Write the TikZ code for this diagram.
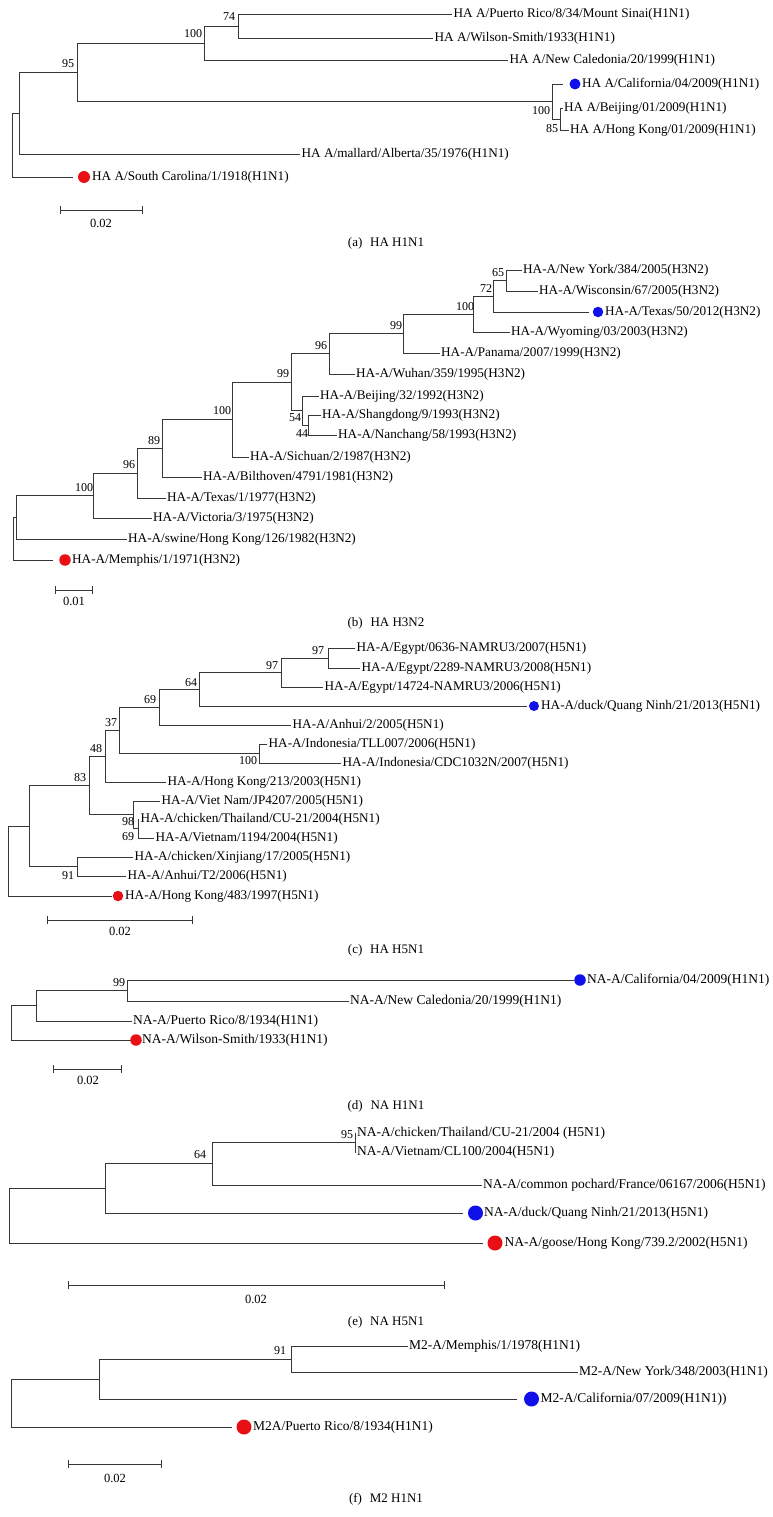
\documentclass[tikz,border=0pt]{standalone}
\usepackage{fontspec}
\setmainfont{Liberation Serif}
\usetikzlibrary{arrows.meta}
\definecolor{dotred}{RGB}{232,16,20}
\definecolor{dotblue}{RGB}{16,16,232}
\definecolor{brc}{RGB}{55,55,55}
\tikzset{
  br/.style={draw=brc, line width=0.9pt},
  lfa/.style={anchor=west, inner sep=1.5pt, font=\fontsize{13.2}{15}\selectfont},
  lfb/.style={anchor=west, inner sep=1.5pt, font=\fontsize{13.5}{15}\selectfont},
  bsv/.style={inner sep=0pt, font=\fontsize{12}{14}\selectfont},
  rdot/.style={circle, fill=dotred, draw=none, inner sep=0pt, minimum size=#1},
  bdot/.style={circle, fill=dotblue, draw=none, inner sep=0pt, minimum size=#1},
  sbar/.style={draw=brc, line width=0.9pt, {Bar[width=8pt]}-{Bar[width=8pt]}},
  sbl/.style={inner sep=0pt, font=\fontsize{12.5}{14}\selectfont},
  capt/.style={inner sep=0pt, font=\fontsize{13}{15}\selectfont},
}
\begin{document}
\begin{tikzpicture}[x=1pt,y=-1pt]
\useasboundingbox[fill=white] (0,0) rectangle (772,1517);

% ================= (a) HA H1N1 =================
\coordinate (aR) at (12,145);
\coordinate (aA1) at (19,113);
\coordinate (aA2) at (77,72.25);
\coordinate (aA3) at (204,43);
\coordinate (aA4) at (238,26);
\coordinate (aC) at (552,101.5);
\coordinate (aD) at (560,119);
\node[lfa] (aPR) at (452,14) {HA A/Puerto Rico/8/34/Mount Sinai(H1N1)};
\node[lfa] (aWS) at (433,38) {HA A/Wilson-Smith/1933(H1N1)};
\node[lfa] (aNC) at (508,60) {HA A/New Caledonia/20/1999(H1N1)};
\coordinate (aCalE) at (563,84);
\node[bdot=11pt] (aCalD) at (575,84) {};
\node[lfa] (aCal) at (580.5,84) {HA A/California/04/2009(H1N1)};
\node[lfa] (aBJ) at (562.5,108) {HA A/Beijing/01/2009(H1N1)};
\node[lfa] (aHK) at (568.5,130) {HA A/Hong Kong/01/2009(H1N1)};
\node[lfa] (aMA) at (300,154) {HA A/mallard/Alberta/35/1976(H1N1)};
\coordinate (aSCE) at (73,177);
\node[rdot=12pt] (aSCD) at (84,177) {};
\node[lfa] (aSC) at (90.5,177) {HA A/South Carolina/1/1918(H1N1)};
\draw[br] (aR) |- (aA1);  \draw[br] (aR) |- (aSCE);
\draw[br] (aA1) |- (aA2); \draw[br] (aA1) |- (aMA);
\draw[br] (aA2) |- (aA3); \draw[br] (aA2) |- (aC);
\draw[br] (aA3) |- (aA4); \draw[br] (aA3) |- (aNC);
\draw[br] (aA4) |- (aPR); \draw[br] (aA4) |- (aWS);
\draw[br] (aC) |- (aCalE); \draw[br] (aC) |- (aD);
\draw[br] (aD) |- (aBJ); \draw[br] (aD) |- (aHK);
\node[bsv] (aB1) at (229,17) {74};
\node[bsv] (aB2) at (193,34) {100};
\node[bsv] (aB3) at (68,64) {95};
\node[bsv] (aB4) at (541,111) {100};
\node[bsv] (aB5) at (552,129) {85};
\coordinate (aS1) at (60,210); \coordinate (aS2) at (143,210);
\draw[sbar] (aS1) -- (aS2);
\node[sbl] (aSL) at (101,223) {0.02};
\node[capt] (aCap) at (386,243) {(a)\hspace{0.6em}HA H1N1};

% ================= (b) HA H3N2 =================
\coordinate (bR) at (13,538.6);
\coordinate (b1) at (16,517.3);
\coordinate (b2) at (93,495.6);
\coordinate (b3) at (137,473.1);
\coordinate (b4) at (162,448.3);
\coordinate (b5) at (232,419.6);
\coordinate (b6) at (291,382.1);
\coordinate (b7) at (329,353.8);
\coordinate (b8) at (302,410.5);
\coordinate (b9) at (403,333.6);
\coordinate (b10) at (473,314.1);
\coordinate (b11) at (493,296.25);
\coordinate (b12) at (506,280.5);
\coordinate (b13) at (308,425);
\node[lfa] (bNY) at (521.5,270) {HA-A/New York/384/2005(H3N2)};
\node[lfa] (bWI) at (537.5,291) {HA-A/Wisconsin/67/2005(H3N2)};
\coordinate (bTXE) at (589,312);
\node[bdot=10.5pt] (bTXD) at (598,312) {};
\node[lfa] (bTX) at (603.5,312) {HA-A/Texas/50/2012(H3N2)};
\node[lfa] (bWY) at (509.5,332) {HA-A/Wyoming/03/2003(H3N2)};
\node[lfa] (bPA) at (439.5,353) {HA-A/Panama/2007/1999(H3N2)};
\node[lfa] (bWU) at (354.5,374) {HA-A/Wuhan/359/1995(H3N2)};
\node[lfa] (bBJ) at (318.5,396) {HA-A/Beijing/32/1992(H3N2)};
\node[lfa] (bSD) at (320.5,415) {HA-A/Shangdong/9/1993(H3N2)};
\node[lfa] (bNC) at (336.5,435) {HA-A/Nanchang/58/1993(H3N2)};
\node[lfa] (bSI) at (248.5,457) {HA-A/Sichuan/2/1987(H3N2)};
\node[lfa] (bBI) at (201.5,477) {HA-A/Bilthoven/4791/1981(H3N2)};
\node[lfa] (bT1) at (165.5,498) {HA-A/Texas/1/1977(H3N2)};
\node[lfa] (bVI) at (151.5,518) {HA-A/Victoria/3/1975(H3N2)};
\node[lfa] (bSW) at (126.5,539) {HA-A/swine/Hong Kong/126/1982(H3N2)};
\coordinate (bMEE) at (53,560);
\node[rdot=11.5pt] (bMED) at (65,560) {};
\node[lfa] (bME) at (70.5,560) {HA-A/Memphis/1/1971(H3N2)};
\draw[br] (bR) |- (b1);   \draw[br] (bR) |- (bMEE);
\draw[br] (b1) |- (b2);   \draw[br] (b1) |- (bSW);
\draw[br] (b2) |- (b3);   \draw[br] (b2) |- (bVI);
\draw[br] (b3) |- (b4);   \draw[br] (b3) |- (bT1);
\draw[br] (b4) |- (b5);   \draw[br] (b4) |- (bBI);
\draw[br] (b5) |- (b6);   \draw[br] (b5) |- (bSI);
\draw[br] (b6) |- (b7);   \draw[br] (b6) |- (b8);
\draw[br] (b7) |- (b9);   \draw[br] (b7) |- (bWU);
\draw[br] (b8) |- (bBJ);  \draw[br] (b8) |- (b13);
\draw[br] (b13) |- (bSD); \draw[br] (b13) |- (bNC);
\draw[br] (b9) |- (b10);  \draw[br] (b9) |- (bPA);
\draw[br] (b10) |- (b11); \draw[br] (b10) |- (bWY);
\draw[br] (b11) |- (b12); \draw[br] (b11) |- (bTXE);
\draw[br] (b12) |- (bNY); \draw[br] (b12) |- (bWI);
\node[bsv] at (498,273) {65};
\node[bsv] at (486,289) {72};
\node[bsv] at (465,307) {100};
\node[bsv] at (396,326) {99};
\node[bsv] at (321,346) {96};
\node[bsv] at (283,374) {99};
\node[bsv] at (295,418) {54};
\node[bsv] at (302,434) {44};
\node[bsv] at (222,411) {100};
\node[bsv] at (154,441) {89};
\node[bsv] at (129,465) {96};
\node[bsv] at (84,488) {100};
\coordinate (bS1) at (55,590); \coordinate (bS2) at (93,590);
\draw[sbar] (bS1) -- (bS2);
\node[sbl] (bSL) at (74,601) {0.01};
\node[capt] (bCap) at (386,623) {(b)\hspace{0.6em}HA H3N2};

% ================= (c) HA H5N1 =================
\coordinate (cR) at (8,861);
\coordinate (c1) at (29,826);
\coordinate (c2) at (89,785.5);
\coordinate (c3) at (105,756.2);
\coordinate (c4) at (119,730.3);
\coordinate (c5) at (159,707.1);
\coordinate (c6) at (199,689.25);
\coordinate (c7) at (281,672.5);
\coordinate (c8) at (328,658);
\coordinate (cI) at (259,753.5);
\coordinate (c98) at (133,814.75);
\coordinate (c69) at (138,828.5);
\coordinate (c91) at (77,866.5);
\node[lfa] (cE1) at (355,648) {HA-A/Egypt/0636-NAMRU3/2007(H5N1)};
\node[lfa] (cE2) at (360,668) {HA-A/Egypt/2289-NAMRU3/2008(H5N1)};
\node[lfa] (cE3) at (323,687) {HA-A/Egypt/14724-NAMRU3/2006(H5N1)};
\coordinate (cDKE) at (527,706);
\node[bdot=10pt] (cDKD) at (534,706) {};
\node[lfa] (cDK) at (539.5,706) {HA-A/duck/Quang Ninh/21/2013(H5N1)};
\node[lfa] (cA2) at (291,725) {HA-A/Anhui/2/2005(H5N1)};
\node[lfa] (cTL) at (267,744) {HA-A/Indonesia/TLL007/2006(H5N1)};
\node[lfa] (cCD) at (341,763) {HA-A/Indonesia/CDC1032N/2007(H5N1)};
\node[lfa] (cHK2) at (166,782) {HA-A/Hong Kong/213/2003(H5N1)};
\node[lfa] (cJP) at (160,801) {HA-A/Viet Nam/JP4207/2005(H5N1)};
\node[lfa] (cTH) at (139,819) {HA-A/chicken/Thailand/CU-21/2004(H5N1)};
\node[lfa] (cVN) at (154,838) {HA-A/Vietnam/1194/2004(H5N1)};
\node[lfa] (cXJ) at (133,857) {HA-A/chicken/Xinjiang/17/2005(H5N1)};
\node[lfa] (cT2) at (126,876) {HA-A/Anhui/T2/2006(H5N1)};
\coordinate (cHKE) at (112,896);
\node[rdot=10.5pt] (cHKD) at (118,896) {};
\node[lfa] (cHK) at (123.5,896) {HA-A/Hong Kong/483/1997(H5N1)};
\draw[br] (cR) |- (c1);   \draw[br] (cR) |- (cHKE);
\draw[br] (c1) |- (c2);   \draw[br] (c1) |- (c91);
\draw[br] (c91) |- (cXJ); \draw[br] (c91) |- (cT2);
\draw[br] (c2) |- (c3);   \draw[br] (c2) |- (c98);
\draw[br] (c98) |- (cJP); \draw[br] (c98) |- (c69);
\draw[br] (c69) |- (cTH); \draw[br] (c69) |- (cVN);
\draw[br] (c3) |- (c4);   \draw[br] (c3) |- (cHK2);
\draw[br] (c4) |- (c5);   \draw[br] (c4) |- (cI);
\draw[br] (cI) |- (cTL);  \draw[br] (cI) |- (cCD);
\draw[br] (c5) |- (c6);   \draw[br] (c5) |- (cA2);
\draw[br] (c6) |- (c7);   \draw[br] (c6) |- (cDKE);
\draw[br] (c7) |- (c8);   \draw[br] (c7) |- (cE3);
\draw[br] (c8) |- (cE1);  \draw[br] (c8) |- (cE2);
\node[bsv] at (318,651) {97};
\node[bsv] at (272,666) {97};
\node[bsv] at (191,683) {64};
\node[bsv] at (150,700) {69};
\node[bsv] at (111,723) {37};
\node[bsv] at (96,749) {48};
\node[bsv] at (80,778) {83};
\node[bsv] at (248,761) {100};
\node[bsv] at (128,822) {98};
\node[bsv] at (128,837) {69};
\node[bsv] at (68,876) {91};
\coordinate (cS1) at (47,920); \coordinate (cS2) at (193,920);
\draw[sbar] (cS1) -- (cS2);
\node[sbl] (cSL) at (120,931) {0.02};
\node[capt] (cCap) at (386,950) {(c)\hspace{0.6em}HA H5N1};

% ================= (d) NA H1N1 =================
\coordinate (dR) at (11,1022.9);
\coordinate (d1) at (36,1005.75);
\coordinate (d2) at (127,990.5);
\coordinate (dCAE) at (574,980);
\node[bdot=11.5pt] (dCAD) at (580,980) {};
\node[lfb] (dCA) at (585.5,980) {NA-A/California/04/2009(H1N1)};
\node[lfb] (dNC) at (348.5,1001) {NA-A/New Caledonia/20/1999(H1N1)};
\node[lfb] (dPR) at (131.5,1021) {NA-A/Puerto Rico/8/1934(H1N1)};
\coordinate (dWSE) at (131,1040);
\node[rdot=11.5pt] (dWSD) at (136,1040) {};
\node[lfb] (dWS) at (140.5,1040) {NA-A/Wilson-Smith/1933(H1N1)};
\draw[br] (dR) |- (d1);  \draw[br] (dR) |- (dWSE);
\draw[br] (d1) |- (d2);  \draw[br] (d1) |- (dPR);
\draw[br] (d2) |- (dCAE); \draw[br] (d2) |- (dNC);
\node[bsv] at (119,983) {99};
\coordinate (dS1) at (53,1069); \coordinate (dS2) at (122,1069);
\draw[sbar] (dS1) -- (dS2);
\node[sbl] (dSL) at (88,1080) {0.02};
\node[capt] (dCap) at (386,1106) {(d)\hspace{0.6em}NA H1N1};

% ================= (e) NA H5N1 =================
\coordinate (eR) at (9,1215.7);
\coordinate (e1) at (105,1188.4);
\coordinate (e2) at (212,1163.75);
\coordinate (e3) at (355,1142.5);
\node[lfb] (eTH) at (355.5,1133) {NA-A/chicken/Thailand/CU-21/2004 (H5N1)};
\node[lfb] (eVN) at (355.5,1152) {NA-A/Vietnam/CL100/2004(H5N1)};
\node[lfb] (ePO) at (481.5,1185) {NA-A/common pochard/France/06167/2006(H5N1)};
\coordinate (eDKE) at (463,1213);
\node[bdot=15pt] (eDKD) at (475.5,1213) {};
\node[lfb] (eDK) at (482.5,1213) {NA-A/duck/Quang Ninh/21/2013(H5N1)};
\coordinate (eGOE) at (483,1243);
\node[rdot=15pt] (eGOD) at (495,1243) {};
\node[lfb] (eGO) at (503,1243) {NA-A/goose/Hong Kong/739.2/2002(H5N1)};
\draw[br] (eR) |- (e1);  \draw[br] (eR) |- (eGOE);
\draw[br] (e1) |- (e2);  \draw[br] (e1) |- (eDKE);
\draw[br] (e2) |- (e3);  \draw[br] (e2) |- (ePO);
\draw[br] (e3) |- (eTH); \draw[br] (e3) |- (eVN);
\node[bsv] at (347,1135) {95};
\node[bsv] at (200,1155) {64};
\coordinate (eS1) at (68,1285); \coordinate (eS2) at (445,1285);
\draw[sbar] (eS1) -- (eS2);
\node[sbl] (eSL) at (256,1299) {0.02};
\node[capt] (eCap) at (386,1322) {(e)\hspace{0.6em}NA H5N1};

% ================= (f) M2 H1N1 =================
\coordinate (fR) at (11,1403);
\coordinate (f1) at (99,1379);
\coordinate (f2) at (291,1359);
\node[lfb] (fME) at (407.5,1346) {M2-A/Memphis/1/1978(H1N1)};
\node[lfb] (fNY) at (577.5,1372) {M2-A/New York/348/2003(H1N1)};
\coordinate (fCAE) at (517,1399);
\node[bdot=15pt] (fCAD) at (531.5,1399) {};
\node[lfb] (fCA) at (539,1399) {M2-A/California/07/2009(H1N1))};
\coordinate (fPRE) at (232,1427);
\node[rdot=15pt] (fPRD) at (244,1427) {};
\node[lfb] (fPR) at (251.5,1427) {M2A/Puerto Rico/8/1934(H1N1)};
\draw[br] (fR) |- (f1);  \draw[br] (fR) |- (fPRE);
\draw[br] (f1) |- (f2);  \draw[br] (f1) |- (fCAE);
\draw[br] (f2) |- (fME); \draw[br] (f2) |- (fNY);
\node[bsv] at (280,1351) {91};
\coordinate (fS1) at (68,1464); \coordinate (fS2) at (162,1464);
\draw[sbar] (fS1) -- (fS2);
\node[sbl] (fSL) at (115,1478) {0.02};
\node[capt] (fCap) at (386,1499) {(f)\hspace{0.6em}M2 H1N1};
\end{tikzpicture}
\end{document}
